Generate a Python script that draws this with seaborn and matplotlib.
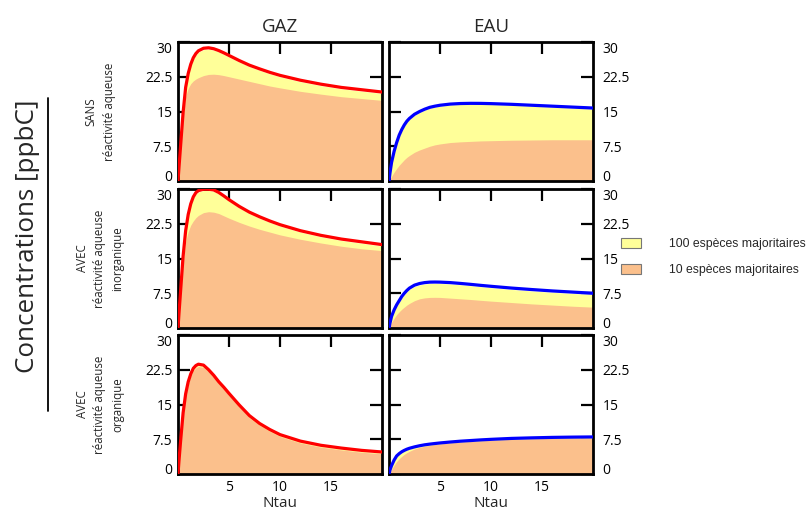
import matplotlib
matplotlib.use("Agg")
import matplotlib.pyplot as plt
import seaborn as sns
from matplotlib.patches import Patch
from matplotlib.lines import Line2D

sns.set_theme(style="white")
plt.rcParams['font.family'] = ['Open Sans', 'DejaVu Sans']

# ---------------- DATA ----------------
NTAU = [0, 0.1, 0.25, 0.5, 0.75, 1, 1.25, 1.5, 1.75, 2, 2.5, 3, 3.5, 4, 4.5, 5,
        6, 7, 8, 9, 10, 12, 14, 16, 18, 20]

# GAZ / SANS reactivite aqueuse
gaz_sans_total = [0, 3.1, 7.5, 14.8, 20.2, 23.2, 25.2, 26.6, 27.5, 28.1, 28.65, 28.75, 28.55, 28.15, 27.65, 27.1,
                  26.0, 25.0, 24.2, 23.45, 22.8, 21.75, 20.9, 20.2, 19.7, 19.2]
gaz_sans_100 = [0, 3.0, 7.4, 14.6, 19.9, 22.9, 24.9, 26.3, 27.2, 27.8, 28.35, 28.45, 28.25, 27.85, 27.35, 26.8,
                25.7, 24.7, 23.9, 23.15, 22.5, 21.45, 20.6, 19.9, 19.4, 18.9]
gaz_sans_10 = [0, 2.9, 7.0, 13.7, 18.3, 20.0, 21.0, 21.6, 22.0, 22.3, 22.75, 23.0, 23.05, 22.95, 22.75, 22.5,
               22.0, 21.5, 21.0, 20.5, 20.1, 19.35, 18.75, 18.2, 17.8, 17.4]

# EAU / SANS
eau_sans_total = [0, 1.8, 4.0, 6.4, 8.3, 9.9, 11.1, 12.1, 12.9, 13.5, 14.4, 15.0, 15.5, 15.9, 16.15, 16.35,
                  16.6, 16.72, 16.76, 16.75, 16.7, 16.55, 16.35, 16.15, 15.95, 15.75]
eau_sans_100 = [0, 1.7, 3.9, 6.2, 8.1, 9.7, 10.9, 11.9, 12.7, 13.3, 14.2, 14.8, 15.3, 15.7, 15.95, 16.15,
                16.4, 16.52, 16.56, 16.55, 16.5, 16.35, 16.15, 15.95, 15.75, 15.55]
eau_sans_10 = [0, 0.45, 1.0, 1.9, 2.7, 3.4, 4.0, 4.6, 5.1, 5.5, 6.2, 6.7, 7.1, 7.5, 7.8, 8.0,
               8.3, 8.45, 8.55, 8.65, 8.7, 8.8, 8.85, 8.9, 8.9, 8.9]

# GAZ / AVEC reactivite inorganique
gaz_inorg_total = [0, 3.3, 7.9, 15.5, 21.0, 24.5, 26.8, 28.3, 29.2, 29.65, 29.95, 29.95, 29.8, 29.25, 28.5, 27.7,
                   26.25, 25.0, 24.0, 23.1, 22.3, 21.0, 20.0, 19.2, 18.6, 18.0]
gaz_inorg_100 = [0, 3.2, 7.8, 15.3, 20.8, 24.2, 26.5, 28.0, 28.9, 29.35, 29.7, 29.7, 29.5, 28.95, 28.2, 27.4,
                 25.95, 24.7, 23.7, 22.8, 22.0, 20.7, 19.7, 18.9, 18.3, 17.7]
gaz_inorg_10 = [0, 3.0, 7.2, 14.0, 18.6, 20.8, 22.2, 23.1, 23.8, 24.3, 24.9, 25.1, 25.0, 24.7, 24.2, 23.7,
                22.8, 22.0, 21.3, 20.7, 20.1, 19.15, 18.35, 17.65, 17.1, 16.7]

# EAU / AVEC inorganique
eau_inorg_total = [0, 1.1, 2.5, 3.9, 5.0, 5.9, 6.8, 7.5, 8.1, 8.6, 9.25, 9.6, 9.8, 9.9, 9.92, 9.9,
                   9.8, 9.62, 9.42, 9.2, 9.0, 8.62, 8.3, 8.0, 7.75, 7.5]
eau_inorg_100 = [0, 1.0, 2.4, 3.7, 4.8, 5.7, 6.55, 7.2, 7.8, 8.3, 8.95, 9.3, 9.5, 9.6, 9.62, 9.6,
                 9.5, 9.32, 9.12, 8.9, 8.7, 8.32, 8.0, 7.7, 7.45, 7.2]
eau_inorg_10 = [0, 0.5, 1.2, 2.1, 2.9, 3.5, 4.05, 4.5, 4.95, 5.3, 5.9, 6.3, 6.5, 6.6, 6.62, 6.6,
                6.45, 6.3, 6.15, 5.97, 5.8, 5.5, 5.2, 4.95, 4.7, 4.5]

# GAZ / AVEC reactivite organique
gaz_org_total = [0, 3.0, 7.0, 13.2, 17.3, 19.9, 21.6, 22.8, 23.4, 23.7, 23.5, 22.5, 21.3, 19.9, 18.7, 17.4,
                 14.9, 12.6, 10.9, 9.6, 8.5, 7.1, 6.2, 5.6, 5.1, 4.75]
gaz_org_100 = [0, 2.9, 6.9, 13.0, 17.1, 19.7, 21.4, 22.6, 23.2, 23.5, 23.3, 22.3, 21.1, 19.7, 18.5, 17.2,
               14.7, 12.4, 10.7, 9.4, 8.3, 6.9, 6.0, 5.4, 4.9, 4.55]
gaz_org_10 = [0, 2.7, 6.6, 12.7, 16.8, 19.4, 21.1, 22.3, 22.9, 23.2, 23.0, 22.0, 20.8, 19.4, 18.2, 16.9,
              14.4, 12.1, 10.5, 9.2, 8.1, 6.7, 5.8, 5.2, 4.7, 4.35]

# EAU / AVEC organique
eau_org_total = [0, 0.9, 1.8, 3.0, 3.9, 4.4, 4.8, 5.1, 5.35, 5.55, 5.85, 6.1, 6.3, 6.45, 6.58, 6.7,
                 6.9, 7.08, 7.22, 7.36, 7.48, 7.68, 7.8, 7.9, 7.96, 8.0]
eau_org_100 = [0, 0.8, 1.7, 2.85, 3.75, 4.25, 4.65, 4.95, 5.2, 5.4, 5.72, 5.98, 6.18, 6.33, 6.46, 6.58,
               6.78, 6.96, 7.1, 7.24, 7.36, 7.56, 7.68, 7.78, 7.84, 7.88]
eau_org_10 = [0, 0.4, 1.0, 1.9, 2.7, 3.3, 3.8, 4.25, 4.6, 4.9, 5.4, 5.75, 6.0, 6.2, 6.35, 6.48,
              6.7, 6.88, 7.02, 7.16, 7.28, 7.48, 7.6, 7.7, 7.76, 7.8]

ROW_LABELS = ["SANS\nréactivité aqueuse",
              "AVEC\nréactivité aqueuse\ninorganique",
              "AVEC\nréactivité aqueuse\norganique"]
COL_TITLES = ["GAZ", "EAU"]
Y_TICKS = [0, 7.5, 15, 22.5, 30]
Y_TICKLABELS = ["0", "7.5", "15", "22.5", "30"]
X_TICKS = [5, 10, 15]
LEGEND_LABELS = ["100 espèces majoritaires", "10 espèces majoritaires"]

YELLOW = "#ffff99"
ORANGE = "#fbc08c"

panels = [
    [(gaz_sans_total, gaz_sans_100, gaz_sans_10), (eau_sans_total, eau_sans_100, eau_sans_10)],
    [(gaz_inorg_total, gaz_inorg_100, gaz_inorg_10), (eau_inorg_total, eau_inorg_100, eau_inorg_10)],
    [(gaz_org_total, gaz_org_100, gaz_org_10), (eau_org_total, eau_org_100, eau_org_10)],
]
line_colors = ["#ff0000", "#0000ff"]

# ---------------- FIGURE ----------------
W, H = 807, 509
fig = plt.figure(figsize=(W / 100, H / 100), dpi=100)

col_x = [178, 389]
row_top = [42, 189, 335]
ax_w, ax_h = 204, 139

for r in range(3):
    for c in range(2):
        left = col_x[c] / W
        bottom = 1 - (row_top[r] + ax_h) / H
        ax = fig.add_axes([left, bottom, ax_w / W, ax_h / H])
        total, top100, top10 = panels[r][c]

        ax.fill_between(NTAU, 0, top100, color=YELLOW, lw=0, zorder=1)
        ax.fill_between(NTAU, 0, top10, color=ORANGE, lw=0, zorder=2)
        sns.lineplot(x=NTAU, y=total, ax=ax, color=line_colors[c], lw=2.3, zorder=3)

        ax.set_xlim(0, 20)
        ax.set_ylim(0, 30)
        ax.set_xticks(X_TICKS)
        ax.set_yticks(Y_TICKS)
        ax.set_yticklabels(Y_TICKLABELS)
        for s in ax.spines.values():
            s.set_visible(True)
            s.set_color("black")
            s.set_linewidth(2)
        ax.tick_params(direction="in", length=8.5, width=1.6, color="black",
                       top=True, bottom=True, left=True, right=True,
                       labelsize=10, labelcolor="black")
        ax.tick_params(axis="x", pad=4)
        if c == 0:
            ax.tick_params(axis="y", labelleft=True, labelright=False, pad=4)
        else:
            ax.tick_params(axis="y", labelleft=False, labelright=True, pad=7)
        if r < 2:
            ax.tick_params(axis="x", labelbottom=False)
        else:
            ax.set_xlabel("Ntau", fontsize=11, labelpad=1)
        if r == 0:
            ax.set_title(COL_TITLES[c], fontsize=13.5, pad=7)
        ax.grid(False)
        ax.set_facecolor("white")

        # keep the 0 and 30 labels inside the panel height
        yticks = ax.yaxis.get_major_ticks()
        for lab in (yticks[0].label1, yticks[0].label2):
            lab.set_verticalalignment("baseline")
        for lab in (yticks[-1].label1, yticks[-1].label2):
            lab.set_verticalalignment("top")

# row labels
for r, lab in enumerate(ROW_LABELS):
    yc = 1 - (row_top[r] + ax_h / 2) / H
    fig.text(100 / W, yc, lab, rotation=90, ha="center", va="center",
             fontsize=8.3, linespacing=1.5, multialignment="center")

fig.text(28 / W, 1 - 236 / H, "Concentrations [ppbC]", rotation=90,
         ha="center", va="center", fontsize=18.7)
fig.add_artist(Line2D([48 / W, 48 / W], [1 - 98 / H, 1 - 411 / H],
                      color="black", lw=1.3, transform=fig.transFigure))

# legend
handles = [Patch(facecolor=YELLOW, edgecolor="#777777", lw=0.8),
           Patch(facecolor=ORANGE, edgecolor="#777777", lw=0.8)]
fig.legend(handles, LEGEND_LABELS, loc="upper left",
           bbox_to_anchor=(621 / W, 1 - 238 / H), frameon=False,
           prop={"family": "Liberation Sans", "size": 8.8},
           handlelength=1.65, handleheight=0.9, handletextpad=2.3,
           labelspacing=1.1, borderpad=0, borderaxespad=0)

fig.savefig("out.png", dpi=100)
